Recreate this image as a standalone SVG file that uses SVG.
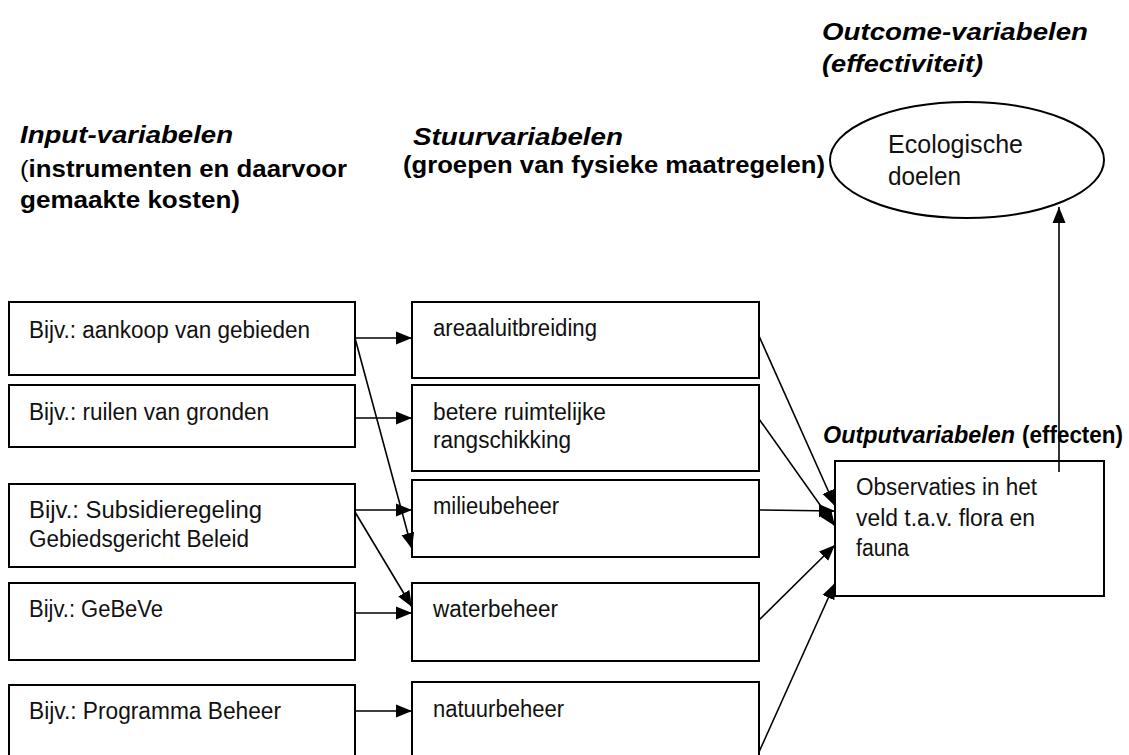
<svg xmlns="http://www.w3.org/2000/svg" width="1129" height="755" viewBox="0 0 1129 755">
<style>
.box{fill:#fff;stroke:#000;stroke-width:2}
.t{font-family:"Liberation Sans",Arial,sans-serif;font-size:23.5px;fill:#111}
.h{font-family:"Liberation Sans",Arial,sans-serif;font-size:24px;font-weight:bold;fill:#000}
.hi{font-style:italic}
.c{stroke:#000;stroke-width:1.6;fill:none;marker-end:url(#ah)}
</style>
<defs>
<marker id="ah" markerUnits="userSpaceOnUse" markerWidth="17" markerHeight="15" refX="16" refY="7.5" orient="auto">
<path d="M0,1 L16,7.5 L0,14 z" fill="#000"/>
</marker>
</defs>
<rect width="1129" height="755" fill="#fff"/>

<g id="headers">
<text class="h hi" x="20" y="143" textLength="213" lengthAdjust="spacingAndGlyphs">Input-variabelen</text>
<text class="h" x="20" y="177" textLength="327" lengthAdjust="spacingAndGlyphs"><tspan font-weight="normal">(</tspan>instrumenten en daarvoor</text>
<text class="h" x="20" y="208" textLength="220" lengthAdjust="spacingAndGlyphs">gemaakte kosten)</text>
<text class="h hi" x="413" y="145" textLength="210" lengthAdjust="spacingAndGlyphs">Stuurvariabelen</text>
<text class="h" x="403" y="173" textLength="422" lengthAdjust="spacingAndGlyphs">(groepen van fysieke maatregelen)</text>
<text class="h hi" x="822" y="40" textLength="266" lengthAdjust="spacingAndGlyphs">Outcome-variabelen</text>
<text class="h hi" x="822" y="72" textLength="161" lengthAdjust="spacingAndGlyphs">(effectiviteit)</text>
<text class="h hi" x="823" y="443" textLength="192" lengthAdjust="spacingAndGlyphs">Outputvariabelen</text>
<text class="h" x="1022" y="443" textLength="101" lengthAdjust="spacingAndGlyphs">(effecten)</text>
</g>

<g id="doelen">
<ellipse cx="967" cy="160" rx="137" ry="58" fill="#fff" stroke="#000" stroke-width="2"/>
<text class="t" x="888" y="153" style="font-size:25px" textLength="135" lengthAdjust="spacingAndGlyphs">Ecologische</text>
<text class="t" x="888" y="185" style="font-size:25px" textLength="73" lengthAdjust="spacingAndGlyphs">doelen</text>
</g>

<g id="in1"><rect class="box" x="9" y="302" width="346" height="73"/><text class="t" x="29" y="338" textLength="281" lengthAdjust="spacingAndGlyphs">Bijv.: aankoop van gebieden</text></g>
<g id="in2"><rect class="box" x="9" y="385" width="346" height="62"/><text class="t" x="29" y="420" textLength="240" lengthAdjust="spacingAndGlyphs">Bijv.: ruilen van gronden</text></g>
<g id="in3"><rect class="box" x="9" y="484" width="346" height="83"/><text class="t" x="29" y="518" textLength="233" lengthAdjust="spacingAndGlyphs">Bijv.: Subsidieregeling</text><text class="t" x="29" y="547" textLength="220" lengthAdjust="spacingAndGlyphs">Gebiedsgericht Beleid</text></g>
<g id="in4"><rect class="box" x="9" y="583" width="346" height="77"/><text class="t" x="29" y="617" textLength="134" lengthAdjust="spacingAndGlyphs">Bijv.: GeBeVe</text></g>
<g id="in5"><rect class="box" x="9" y="685" width="346" height="80"/><text class="t" x="29" y="719" textLength="252" lengthAdjust="spacingAndGlyphs">Bijv.: Programma Beheer</text></g>

<g id="st1"><rect class="box" x="412" y="302" width="347" height="76"/><text class="t" x="433" y="336" textLength="164" lengthAdjust="spacingAndGlyphs">areaaluitbreiding</text></g>
<g id="st2"><rect class="box" x="412" y="385" width="347" height="86"/><text class="t" x="433" y="420" textLength="173" lengthAdjust="spacingAndGlyphs">betere ruimtelijke</text><text class="t" x="433" y="448" textLength="138" lengthAdjust="spacingAndGlyphs">rangschikking</text></g>
<g id="st3"><rect class="box" x="412" y="480" width="347" height="77"/><text class="t" x="433" y="514" textLength="126" lengthAdjust="spacingAndGlyphs">milieubeheer</text></g>
<g id="st4"><rect class="box" x="412" y="583" width="347" height="78"/><text class="t" x="433" y="617" textLength="125" lengthAdjust="spacingAndGlyphs">waterbeheer</text></g>
<g id="st5"><rect class="box" x="412" y="682" width="347" height="83"/><text class="t" x="433" y="717" textLength="131" lengthAdjust="spacingAndGlyphs">natuurbeheer</text></g>

<g id="output"><rect class="box" x="835" y="461" width="269" height="135"/><text class="t" x="856" y="495" textLength="181" lengthAdjust="spacingAndGlyphs">Observaties in het</text><text class="t" x="856" y="526" textLength="179" lengthAdjust="spacingAndGlyphs">veld t.a.v. flora en</text><text class="t" x="856" y="556" textLength="53" lengthAdjust="spacingAndGlyphs">fauna</text></g>

<g id="connectors">
<line class="c" x1="355" y1="338" x2="412" y2="338"/>
<line class="c" x1="355" y1="418" x2="412" y2="418"/>
<line class="c" x1="355" y1="510" x2="412" y2="510"/>
<line class="c" x1="355" y1="613" x2="412" y2="613"/>
<line class="c" x1="355" y1="711" x2="412" y2="711"/>
<line class="c" x1="355" y1="338" x2="412" y2="549"/>
<line class="c" x1="355" y1="512" x2="412" y2="607"/>
<line class="c" x1="759" y1="336" x2="835" y2="506"/>
<line class="c" x1="759" y1="419" x2="835" y2="526"/>
<line class="c" x1="759" y1="510" x2="835" y2="511"/>
<line class="c" x1="759" y1="620" x2="835" y2="545"/>
<line class="c" x1="759" y1="752" x2="835" y2="583"/>
<line class="c" x1="1059" y1="472" x2="1059" y2="207"/>
</g>
</svg>
